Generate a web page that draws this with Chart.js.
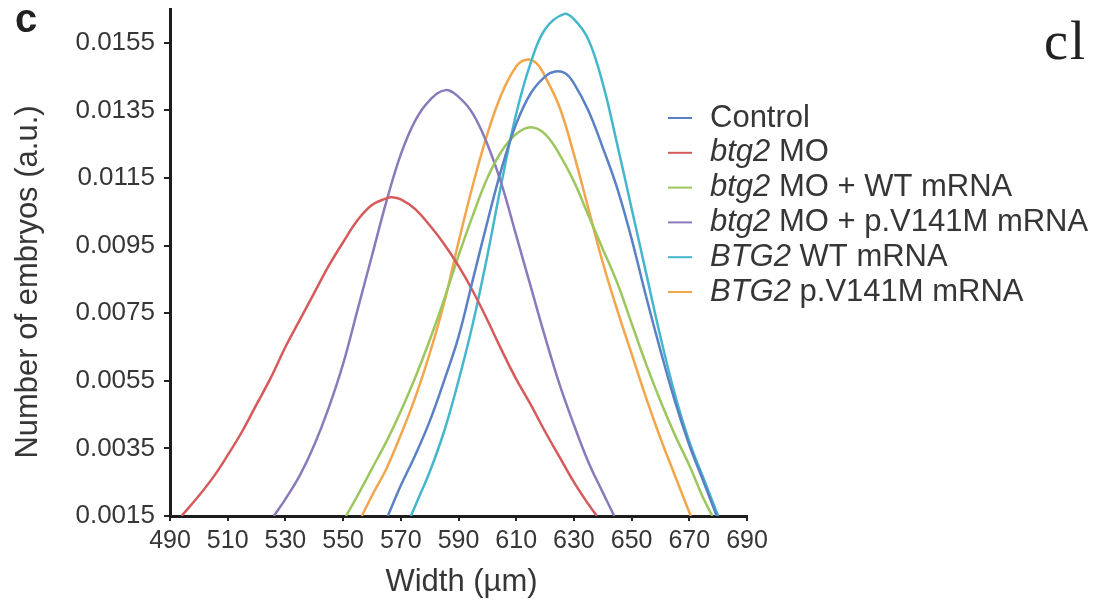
<!DOCTYPE html>
<html>
<head>
<meta charset="utf-8">
<script src="https://cdn.jsdelivr.net/npm/chart.js@4.4.1/dist/chart.umd.min.js"></script>
<style>
  html, body { margin: 0; padding: 0; background: #fff; }
  canvas { display: block; }
</style>
</head>
<body>
<canvas id="chart" width="1101" height="601"></canvas>
<script>
// Embryo width distributions (panel c)

const xTicks = [490, 510, 530, 550, 570, 590, 610, 630, 650, 670, 690];
const yTicks = [0.0015, 0.0035, 0.0055, 0.0075, 0.0095, 0.0115, 0.0135, 0.0155];

// --- series: width (um) / density ---
const controlX = [565.5, 570, 575, 580, 585, 590, 595, 600, 605, 610, 615, 620, 623.5, 627, 630, 635, 640, 645, 650, 655, 660, 665, 670, 675, 679.5];
const controlY = [0.0015, 0.0024, 0.0033, 0.0043, 0.0055, 0.0068, 0.0085, 0.0102, 0.0118, 0.0131, 0.0140, 0.0145, 0.01465, 0.0146, 0.0143, 0.0135, 0.0124, 0.0112, 0.0097, 0.0080, 0.0064, 0.0049, 0.0036, 0.0025, 0.0015];

const moX = [494, 500, 505, 510, 515, 520, 525, 530, 535, 540, 545, 550, 555, 560, 565, 566.5, 570, 575, 580, 585, 590, 595, 600, 605, 610, 615, 620, 625, 630, 635, 638];
const moY = [0.0015, 0.0021, 0.00265, 0.0033, 0.0040, 0.0048, 0.0056, 0.0065, 0.0073, 0.0081, 0.0089, 0.0096, 0.01025, 0.0107, 0.0109, 0.01093, 0.01087, 0.01058, 0.0101, 0.00955, 0.0089, 0.00815, 0.0073, 0.0064, 0.00555, 0.0048, 0.0040, 0.00325, 0.0025, 0.00185, 0.0015];

const moWtX = [551, 555, 560, 565, 570, 575, 580, 585, 590, 595, 600, 605, 610, 615, 620, 625, 630, 635, 640, 645, 650, 655, 660, 665, 670, 675, 678];
const moWtY = [0.0015, 0.0021, 0.0029, 0.0037, 0.0046, 0.0056, 0.0067, 0.0079, 0.0092, 0.0104, 0.0115, 0.0123, 0.0128, 0.0130, 0.0128, 0.0122, 0.0114, 0.0104, 0.0094, 0.0084, 0.0072, 0.0060, 0.0049, 0.0039, 0.0030, 0.0020, 0.0015];

const moMutX = [526, 530, 535, 540, 545, 550, 555, 560, 565, 570, 575, 580, 585.5, 590, 595, 600, 605, 610, 615, 620, 625, 630, 635, 640, 644];
const moMutY = [0.0015, 0.0020, 0.0027, 0.0036, 0.0047, 0.0060, 0.0076, 0.0092, 0.0108, 0.0122, 0.0132, 0.0138, 0.0141, 0.0139, 0.0134, 0.0125, 0.0113, 0.0098, 0.0083, 0.0068, 0.0054, 0.0042, 0.0031, 0.0022, 0.0015];

const wtX = [573.5, 577, 580, 585, 590, 595, 600, 605, 610, 615, 620, 626.5, 630, 635, 640, 645, 650, 655, 660, 665, 670, 675, 680];
const wtY = [0.0015, 0.0022, 0.0028, 0.0040, 0.0055, 0.0072, 0.0092, 0.0114, 0.0134, 0.0149, 0.0159, 0.01635, 0.0162, 0.0156, 0.0143, 0.0125, 0.0106, 0.0087, 0.0068, 0.0051, 0.0037, 0.0026, 0.0015];

const mutX = [556.5, 560, 565, 570, 575, 580, 585, 590, 595, 600, 605, 610, 613.5, 617, 620, 625, 630, 635, 640, 645, 650, 655, 660, 665, 670.5];
const mutY = [0.0015, 0.0021, 0.0029, 0.0039, 0.0050, 0.0063, 0.0078, 0.0096, 0.0113, 0.0128, 0.0140, 0.0148, 0.0150, 0.0149, 0.0145, 0.0136, 0.0122, 0.0106, 0.0090, 0.0076, 0.0063, 0.0050, 0.0038, 0.0027, 0.0015];

// legend: italic gene name + plain rest
const legendGene = ['', 'btg2', 'btg2', 'btg2', 'BTG2', 'BTG2'];
const legendRest = ['Control', ' MO', ' MO + WT mRNA', ' MO + p.V141M mRNA', ' WT mRNA', ' p.V141M mRNA'];
const seriesColors = ['#5a80c6', '#d65a5c', '#9dc75e', '#8a7abb', '#45b6cc', '#f2a64c'];

const seriesX = [controlX, moX, moWtX, moMutX, wtX, mutX];
const seriesY = [controlY, moY, moWtY, moMutY, wtY, mutY];

const xTitle = 'Width (µm)';
const yTitle = 'Number of embryos (a.u.)';

const FONT = "'Liberation Sans', Arial, Helvetica, sans-serif";
const TXT = '#363636';

// --- titles, panel letters, legend with mixed italic ---
const extrasPlugin = {
  id: 'extras',
  afterDraw(chart) {
    const ctx = chart.ctx;
    const area = chart.chartArea;
    ctx.save();
    ctx.fillStyle = '#222';
    ctx.textBaseline = 'alphabetic';
    ctx.textAlign = 'left';
    ctx.font = `bold 40px ${FONT}`;
    ctx.fillText('c', 15, 32);
    ctx.font = "54px 'Liberation Serif', 'Times New Roman', serif";
    ctx.letterSpacing = '2px';
    ctx.fillText('cl', 1044, 59);
    ctx.letterSpacing = '0px';

    // axis titles
    ctx.fillStyle = TXT;
    ctx.font = `31px ${FONT}`;
    ctx.textAlign = 'center';
    ctx.fillText(xTitle, (area.left + area.right) / 2 + 3, 591);
    ctx.save();
    ctx.translate(37, 282);
    ctx.rotate(-Math.PI / 2);
    ctx.fillText(yTitle, 0, 0);
    ctx.restore();

    // legend
    ctx.textAlign = 'left';
    ctx.textBaseline = 'middle';
    legendRest.forEach((rest, i) => {
      const y = 118 + i * 34.8;
      ctx.strokeStyle = seriesColors[i];
      ctx.lineWidth = 2;
      ctx.beginPath();
      ctx.moveTo(668, y);
      ctx.lineTo(692, y);
      ctx.stroke();
      let x = 710;
      ctx.fillStyle = TXT;
      if (legendGene[i]) {
        ctx.font = `italic 31px ${FONT}`;
        ctx.fillText(legendGene[i], x, y);
        x += ctx.measureText(legendGene[i]).width;
      }
      ctx.font = `31px ${FONT}`;
      ctx.fillText(rest, x, y);
    });
    ctx.restore();
  }
};

new Chart(document.getElementById('chart'), {
  type: 'line',
  data: {
    datasets: seriesX.map((xs, i) => ({
      label: (legendGene[i] + legendRest[i]).trim(),
      data: xs.map((x, j) => ({ x, y: seriesY[i][j] })),
      borderColor: seriesColors[i],
      borderWidth: 2.5,
      pointRadius: 0,
      fill: false,
      tension: 0.4,
    })),
  },
  options: {
    responsive: false,
    animation: false,
    devicePixelRatio: 1,
    layout: { padding: { left: 0, top: 9, right: 354, bottom: 0 } },
    plugins: { legend: { display: false }, tooltip: { enabled: false } },
    scales: {
      x: {
        type: 'linear',
        min: 490,
        max: 690,
        afterBuildTicks: s => { s.ticks = xTicks.map(v => ({ value: v })); },
        afterFit: s => { s.height = 85; s.paddingLeft = 0; s.paddingRight = 0; },
        ticks: { color: TXT, font: { family: FONT, size: 25 }, padding: 5, maxRotation: 0, autoSkip: false },
        grid: { display: true, drawOnChartArea: false, drawTicks: true, tickLength: 5, color: '#222', lineWidth: 2 },
        border: { display: true, color: '#1c1c1c', width: 3 },
      },
      y: {
        type: 'linear',
        min: 0.0015,
        max: 0.0165,
        afterBuildTicks: s => { s.ticks = yTicks.map(v => ({ value: v })); },
        afterFit: s => { s.width = 170; s.paddingTop = 0; s.paddingBottom = 0; },
        ticks: { color: TXT, font: { family: FONT, size: 26 }, padding: 9, callback: v => v.toFixed(4) },
        grid: { display: true, drawOnChartArea: false, drawTicks: true, tickLength: 6, color: '#222', lineWidth: 2 },
        border: { display: true, color: '#1c1c1c', width: 3 },
      },
    },
  },
  plugins: [extrasPlugin],
});
</script>
</body>
</html>
